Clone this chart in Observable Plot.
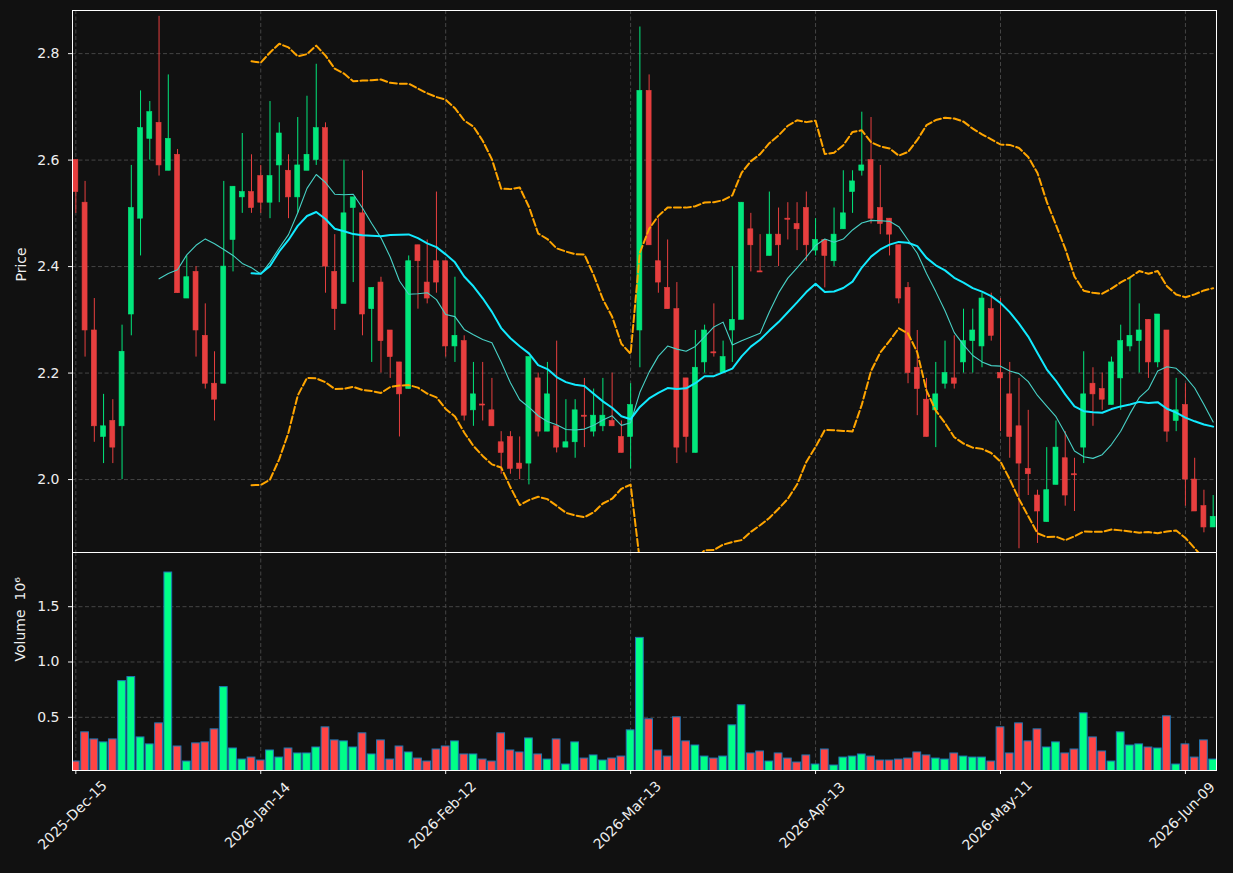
<!DOCTYPE html>
<html>
<head>
<meta charset="utf-8">
<script src="https://cdn.jsdelivr.net/npm/d3@7"></script>
<script src="https://cdn.jsdelivr.net/npm/@observablehq/plot@0.6"></script>
<style>
  html, body { margin: 0; padding: 0; background: #111111; }
  #chart { width: 1233px; height: 873px; background: #111111; }
  #chart svg { display: block; }
</style>
</head>
<body>
<div id="chart"></div>
<script>
// ---- Data ----
const opens = [2.60,2.52,2.28,2.08,2.11,2.10,2.31,2.49,2.64,2.67,2.58,2.61,2.34,2.39,2.27,2.18,2.18,2.45,2.53,2.54,
  2.57,2.52,2.59,2.58,2.53,2.58,2.60,2.66,2.39,2.33,2.51,2.50,2.32,2.37,2.28,2.22,2.17,2.44,2.37,2.41,
  2.41,2.25,2.26,2.13,2.141,2.13,2.07,2.08,2.03,2.03,2.19,2.09,2.10,2.06,2.07,2.120,2.09,2.10,2.11,2.08,
  2.08,2.28,2.73,2.41,2.36,2.32,2.19,2.05,2.22,2.239,2.20,2.28,2.30,2.47,2.391,2.42,2.46,2.490,2.48,2.51,
  2.43,2.45,2.41,2.47,2.54,2.58,2.60,2.51,2.49,2.44,2.36,2.21,2.15,2.13,2.18,2.19,2.22,2.26,2.25,2.32,
  2.20,2.16,2.10,2.02,1.97,1.92,1.99,2.04,2.010,2.06,2.18,2.17,2.14,2.19,2.25,2.26,2.30,2.22,2.28,2.11,
  2.14,2.00,1.95,1.91];
const highs = [2.60,2.56,2.34,2.16,2.15,2.29,2.59,2.73,2.71,2.87,2.76,2.62,2.42,2.40,2.33,2.24,2.56,2.55,2.65,2.61,
  2.59,2.71,2.67,2.61,2.68,2.72,2.78,2.67,2.46,2.60,2.53,2.58,2.36,2.38,2.28,2.22,2.42,2.44,2.45,2.54,
  2.41,2.38,2.27,2.22,2.22,2.19,2.09,2.09,2.08,2.23,2.20,2.22,2.26,2.15,2.15,2.19,2.17,2.19,2.20,2.11,
  2.18,2.85,2.76,2.49,2.45,2.37,2.19,2.28,2.29,2.33,2.26,2.40,2.52,2.50,2.46,2.54,2.51,2.52,2.52,2.54,
  2.49,2.45,2.51,2.58,2.58,2.69,2.68,2.59,2.49,2.44,2.37,2.28,2.19,2.22,2.26,2.27,2.32,2.32,2.35,2.35,
  2.34,2.22,2.19,2.13,1.98,2.06,2.11,2.09,2.04,2.24,2.21,2.20,2.23,2.29,2.38,2.33,2.30,2.31,2.28,2.19,
  2.18,2.04,1.98,1.97];
const lows = [2.50,2.23,2.07,2.03,2.03,2.00,2.27,2.42,2.60,2.57,2.58,2.35,2.34,2.23,2.17,2.11,2.18,2.39,2.50,2.50,
  2.50,2.49,2.52,2.49,2.50,2.58,2.59,2.35,2.28,2.33,2.37,2.27,2.22,2.20,2.19,2.08,2.17,2.32,2.33,2.35,
  2.23,2.22,2.11,2.10,2.11,2.10,2.01,2.01,2.00,1.99,2.08,2.09,2.05,2.06,2.04,2.06,2.08,2.09,2.10,2.05,
  2.02,2.21,2.44,2.35,2.32,2.03,2.05,2.05,2.20,2.23,2.20,2.22,2.30,2.39,2.389,2.42,2.40,2.45,2.43,2.41,
  2.42,2.36,2.40,2.47,2.50,2.57,2.48,2.46,2.42,2.33,2.18,2.12,2.08,2.06,2.17,2.17,2.20,2.20,2.21,2.26,
  2.09,2.04,1.87,1.97,1.88,1.92,1.99,1.95,1.94,2.03,2.10,2.13,2.14,2.13,2.24,2.20,2.19,2.21,2.07,2.09,
  1.95,1.94,1.90,1.91];
const closes = [2.54,2.28,2.10,2.10,2.06,2.24,2.51,2.66,2.69,2.59,2.64,2.35,2.38,2.28,2.18,2.15,2.40,2.55,2.54,2.51,
  2.52,2.57,2.65,2.53,2.59,2.61,2.66,2.40,2.32,2.50,2.53,2.31,2.36,2.26,2.23,2.16,2.41,2.41,2.34,2.37,
  2.25,2.27,2.12,2.16,2.139,2.10,2.05,2.02,2.02,2.23,2.09,2.16,2.06,2.07,2.13,2.118,2.12,2.12,2.10,2.05,
  2.14,2.73,2.44,2.37,2.32,2.06,2.08,2.21,2.28,2.237,2.23,2.30,2.52,2.44,2.389,2.46,2.44,2.488,2.47,2.44,
  2.45,2.42,2.46,2.50,2.56,2.59,2.49,2.48,2.46,2.34,2.20,2.17,2.08,2.16,2.20,2.18,2.26,2.28,2.34,2.27,
  2.19,2.08,2.03,2.01,1.94,1.98,2.06,1.97,2.008,2.16,2.16,2.15,2.22,2.26,2.27,2.28,2.22,2.31,2.09,2.13,
  2.00,1.94,1.91,1.93];
// Volume in millions (axis offset 10^6)
const volumesM = [0.10,0.364,0.30,0.273,0.30,0.827,0.864,0.318,0.255,0.445,1.809,0.236,0.10,0.264,0.273,0.391,0.773,0.218,0.118,0.136,
  0.109,0.20,0.136,0.218,0.173,0.173,0.227,0.409,0.291,0.282,0.227,0.355,0.164,0.291,0.118,0.236,0.182,0.127,0.10,0.209,
  0.236,0.282,0.164,0.164,0.118,0.10,0.355,0.20,0.182,0.309,0.164,0.118,0.30,0.073,0.273,0.127,0.155,0.109,0.127,0.145,
  0.382,1.218,0.482,0.20,0.145,0.50,0.282,0.245,0.145,0.127,0.145,0.427,0.609,0.173,0.191,0.10,0.173,0.127,0.091,0.155,
  0.073,0.209,0.064,0.136,0.145,0.164,0.145,0.109,0.109,0.118,0.127,0.182,0.155,0.127,0.118,0.173,0.145,0.136,0.136,0.10,
  0.409,0.173,0.445,0.282,0.391,0.227,0.273,0.173,0.209,0.536,0.318,0.191,0.10,0.364,0.245,0.255,0.227,0.218,0.509,0.073,
  0.255,0.136,0.291,0.118];
const tickIndex = [0, 20, 40, 60, 80, 100, 120];
const tickLabels = ["2025-Dec-15","2026-Jan-14","2026-Feb-12","2026-Mar-13","2026-Apr-13","2026-May-11","2026-Jun-09"];
const priceTicks = [2.0, 2.2, 2.4, 2.6, 2.8];
const volumeTicks = [0.5, 1.0, 1.5];

// ---- Derived indicators (moving averages / Bollinger bands from closes) ----
function rolling(arr, k, f) {
  return arr.map((_, i) => i < k - 1 ? NaN : f(arr.slice(i - k + 1, i + 1)));
}
const ma10 = rolling(closes, 10, w => d3.mean(w));
const ma20 = rolling(closes, 20, w => d3.mean(w));
const sd20 = rolling(closes, 20, w => { const m = d3.mean(w); return Math.sqrt(d3.mean(w, v => (v - m) ** 2)); });

const rows = closes.map((c, i) => ({
  i, open: opens[i], high: highs[i], low: lows[i], close: c, vol: volumesM[i],
  up: c >= opens[i],
  ma10: ma10[i], ma20: ma20[i],
  upper: ma20[i] + 2 * sd20[i], lower: ma20[i] - 2 * sd20[i]
}));
const upRows = rows.filter(d => d.up);
const downRows = rows.filter(d => !d.up);

const UP_C = "#02e77c", DOWN_C = "#e73f3f";
const UP_V = "#00ff88", DOWN_V = "#ff4444";
const GRID = "#454545";
const TEXT = "#eeeeee";
const xDomain = [-0.36, 123.36];
const font = {background: "#111111", color: TEXT, fontFamily: "'DejaVu Sans', sans-serif", fontSize: "14px", overflow: "visible"};

const price = Plot.plot({
  width: 1233, height: 552,
  marginTop: 10, marginBottom: 0, marginLeft: 72, marginRight: 17,
  style: font,
  x: {domain: xDomain, axis: null},
  y: {domain: [1.863, 2.881], axis: null},
  marks: [
    Plot.gridY(priceTicks, {stroke: GRID, strokeOpacity: 1, strokeDasharray: "4,2.5"}),
    Plot.gridX(tickIndex, {stroke: GRID, strokeOpacity: 1, strokeDasharray: "4,2.5"}),
    Plot.ruleX(upRows, {x: "i", y1: "low", y2: "high", stroke: UP_C, strokeWidth: 1}),
    Plot.ruleX(downRows, {x: "i", y1: "low", y2: "high", stroke: DOWN_C, strokeWidth: 1}),
    Plot.rect(upRows, {x1: d => d.i - 0.27, x2: d => d.i + 0.27, y1: "open", y2: "close", fill: UP_C, stroke: UP_C, strokeWidth: 0.6}),
    Plot.rect(downRows, {x1: d => d.i - 0.27, x2: d => d.i + 0.27, y1: "open", y2: "close", fill: DOWN_C, stroke: DOWN_C, strokeWidth: 0.6}),
    Plot.line(rows, {x: "i", y: "upper", stroke: "#ffa500", strokeWidth: 2, strokeDasharray: "7,3", clip: true}),
    Plot.line(rows, {x: "i", y: "lower", stroke: "#ffa500", strokeWidth: 2, strokeDasharray: "7,3", clip: true}),
    Plot.line(rows, {x: "i", y: "ma10", stroke: "#48d1c6", strokeWidth: 1.1, clip: true}),
    Plot.line(rows, {x: "i", y: "ma20", stroke: "#12eaff", strokeWidth: 2, clip: true}),
    Plot.axisY({ticks: priceTicks, tickFormat: d3.format(".1f"), tickSize: 4, tickPadding: 9, label: null, fontSize: 14}),
    Plot.frame({stroke: "#ffffff", strokeWidth: 1}),
    Plot.text(["Price"], {frameAnchor: "left", dx: -51, rotate: -90, fill: TEXT, fontSize: 14})
  ]
});

const volume = Plot.plot({
  width: 1233, height: 321,
  marginTop: 0, marginBottom: 103, marginLeft: 72, marginRight: 17,
  style: font,
  x: {domain: xDomain, axis: null},
  y: {domain: [0.019, 1.99], axis: null},
  marks: [
    Plot.gridY(volumeTicks, {stroke: GRID, strokeOpacity: 1, strokeDasharray: "4,2.5"}),
    Plot.gridX(tickIndex, {stroke: GRID, strokeOpacity: 1, strokeDasharray: "4,2.5"}),
    Plot.rectY(upRows, {x1: d => d.i - 0.42, x2: d => d.i + 0.42, y: "vol", fill: UP_V, stroke: "#1f77b4", strokeWidth: 1, clip: true}),
    Plot.rectY(downRows, {x1: d => d.i - 0.42, x2: d => d.i + 0.42, y: "vol", fill: DOWN_V, stroke: "#1f77b4", strokeWidth: 1, clip: true}),
    Plot.axisY({ticks: volumeTicks, tickFormat: d3.format(".1f"), tickSize: 4, tickPadding: 9, label: null, fontSize: 14}),
    Plot.axisX({ticks: tickIndex, tickFormat: () => "", tickSize: 4, label: null}),
    Plot.text(tickIndex, {x: d => d, text: (d, j) => tickLabels[j], frameAnchor: "bottom", dy: 48, rotate: -45, fill: TEXT, fontSize: 14}),
    Plot.frame({stroke: "#ffffff", strokeWidth: 1}),
    Plot.text(["Volume  10\u2076"], {frameAnchor: "left", dx: -52, rotate: -90, fill: TEXT, fontSize: 14})
  ]
});

const chart = document.getElementById("chart");
chart.appendChild(price);
chart.appendChild(volume);
</script>
</body>
</html>
